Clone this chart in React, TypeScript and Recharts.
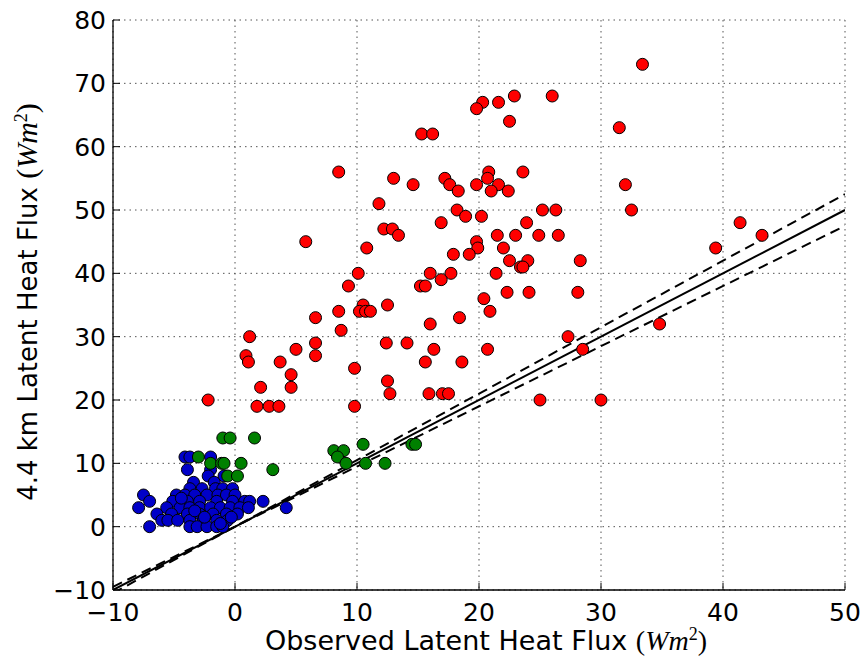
import { CartesianGrid, ReferenceLine, Scatter, ScatterChart, XAxis, YAxis } from 'recharts';

const xTicks = [-10, 0, 10, 20, 30, 40, 50];
const yTicks = [-10, 0, 10, 20, 30, 40, 50, 60, 70, 80];

// 4.4 km run vs observed, split by regime
const redPoints = [
  { x: 33.4, y: 73 }, { x: 26, y: 68 }, { x: 22.9, y: 68 }, { x: 20.3, y: 67 }, { x: 21.6, y: 67 },
  { x: 19.8, y: 66 }, { x: 22.5, y: 64 }, { x: 31.5, y: 63 }, { x: 15.3, y: 62 }, { x: 16.2, y: 62 },
  { x: 8.5, y: 56 }, { x: 20.8, y: 56 }, { x: 23.6, y: 56 }, { x: 13, y: 55 }, { x: 17.2, y: 55 },
  { x: 20.7, y: 55 }, { x: 14.6, y: 54 }, { x: 17.6, y: 54 }, { x: 19.8, y: 54 }, { x: 21.6, y: 54 },
  { x: 32, y: 54 }, { x: 18.3, y: 53 }, { x: 21, y: 53 }, { x: 22.4, y: 53 }, { x: 11.8, y: 51 },
  { x: 18.2, y: 50 }, { x: 25.2, y: 50 }, { x: 26.3, y: 50 }, { x: 32.5, y: 50 }, { x: 18.9, y: 49 },
  { x: 20.2, y: 49 }, { x: 16.9, y: 48 }, { x: 23.9, y: 48 }, { x: 41.4, y: 48 }, { x: 12.2, y: 47 },
  { x: 12.9, y: 47 }, { x: 13.4, y: 46 }, { x: 21.5, y: 46 }, { x: 23, y: 46 }, { x: 24.9, y: 46 },
  { x: 26.5, y: 46 }, { x: 43.2, y: 46 }, { x: 5.8, y: 45 }, { x: 19.8, y: 45 }, { x: 10.8, y: 44 },
  { x: 19.9, y: 44 }, { x: 22, y: 44 }, { x: 39.4, y: 44 }, { x: 17.9, y: 43 }, { x: 19.2, y: 43 },
  { x: 22.5, y: 42 }, { x: 24, y: 42 }, { x: 28.3, y: 42 }, { x: 23.4, y: 41 }, { x: 23.6, y: 41 },
  { x: 10.1, y: 40 }, { x: 16, y: 40 }, { x: 17.7, y: 40 }, { x: 21.4, y: 40 }, { x: 16.9, y: 39 },
  { x: 9.3, y: 38 }, { x: 15.2, y: 38 }, { x: 15.6, y: 38 }, { x: 22.3, y: 37 }, { x: 24.1, y: 37 },
  { x: 28.1, y: 37 }, { x: 20.4, y: 36 }, { x: 10.5, y: 35 }, { x: 12.5, y: 35 }, { x: 8.5, y: 34 },
  { x: 10.2, y: 34 }, { x: 10.7, y: 34 }, { x: 11.1, y: 34 }, { x: 20.9, y: 34 }, { x: 6.6, y: 33 },
  { x: 18.4, y: 33 }, { x: 16, y: 32 }, { x: 34.8, y: 32 }, { x: 8.7, y: 31 }, { x: 1.2, y: 30 },
  { x: 27.3, y: 30 }, { x: 6.6, y: 29 }, { x: 12.4, y: 29 }, { x: 14.1, y: 29 }, { x: 5, y: 28 },
  { x: 16.3, y: 28 }, { x: 20.7, y: 28 }, { x: 28.5, y: 28 }, { x: 0.9, y: 27 }, { x: 6.6, y: 27 },
  { x: 1.1, y: 26 }, { x: 3.7, y: 26 }, { x: 15.6, y: 26 }, { x: 18.6, y: 26 }, { x: 9.8, y: 25 },
  { x: 4.6, y: 24 }, { x: 12.5, y: 23 }, { x: 2.1, y: 22 }, { x: 4.6, y: 22 }, { x: 12.7, y: 21 },
  { x: 15.9, y: 21 }, { x: 17, y: 21 }, { x: 17.5, y: 21 }, { x: -2.2, y: 20 }, { x: 25, y: 20 },
  { x: 30, y: 20 }, { x: 1.8, y: 19 }, { x: 2.8, y: 19 }, { x: 3.6, y: 19 }, { x: 9.8, y: 19 },
];

const greenPoints = [
  { x: -3, y: 11 }, { x: -1, y: 14 }, { x: -0.4, y: 14 }, { x: 1.6, y: 14 }, { x: -2, y: 10 },
  { x: -1.1, y: 10 }, { x: -0.9, y: 10 }, { x: 0.5, y: 10 }, { x: -0.6, y: 8 }, { x: 0.2, y: 8 },
  { x: 3.1, y: 9 }, { x: 8.1, y: 12 }, { x: 8.9, y: 12 }, { x: 8.4, y: 11 }, { x: 9.1, y: 10 },
  { x: 10.5, y: 13 }, { x: 10.7, y: 10 }, { x: 12.3, y: 10 }, { x: 14.5, y: 13 }, { x: 14.8, y: 13 },
];

const bluePoints = [
  { x: -4.1, y: 11 }, { x: -3.7, y: 11 }, { x: -2, y: 11 }, { x: -3.9, y: 9 }, { x: -2, y: 9 },
  { x: -2.2, y: 8 }, { x: -0.9, y: 8 }, { x: -3.4, y: 7 }, { x: -1.7, y: 7 },
  { x: -3.7, y: 6 }, { x: -2.7, y: 6 }, { x: -1.6, y: 6 }, { x: -1, y: 6 }, { x: -0.2, y: 6 },
  { x: -7.5, y: 5 }, { x: -4.8, y: 5 }, { x: -4.1, y: 5 }, { x: -3.3, y: 5 }, { x: -2.3, y: 5 },
  { x: -1.4, y: 5 }, { x: -0.7, y: 5 }, { x: 0, y: 5 },
  { x: -7, y: 4 }, { x: -5.1, y: 4 }, { x: -3.9, y: 4 }, { x: -2.9, y: 4 }, { x: -1.5, y: 4 },
  { x: -0.2, y: 4 }, { x: 0.8, y: 4 }, { x: 1.2, y: 4 }, { x: 2.3, y: 4 },
  { x: -7.9, y: 3 }, { x: -5.6, y: 3 }, { x: -4.5, y: 3 }, { x: -3.7, y: 3 }, { x: -2.9, y: 3 },
  { x: -2, y: 3 }, { x: -1.2, y: 3 }, { x: -0.4, y: 3 }, { x: 0.4, y: 3 }, { x: 1.1, y: 3 }, { x: 4.2, y: 3 },
  { x: -6.4, y: 2 }, { x: -5.2, y: 2 }, { x: -3.9, y: 2 }, { x: -2.9, y: 2 }, { x: -1.8, y: 2 },
  { x: -0.7, y: 2 }, { x: 0.2, y: 2 },
  { x: -6, y: 1 }, { x: -5.5, y: 1 }, { x: -4.7, y: 1 }, { x: -3.7, y: 1 }, { x: -2.6, y: 1 },
  { x: -1.5, y: 1 }, { x: -0.6, y: 1 },
  { x: -7, y: 0 }, { x: -3.7, y: 0 }, { x: -3.1, y: 0 }, { x: -2.3, y: 0 }, { x: -1.5, y: 0 }, { x: -1, y: 0 },
  { x: -4.4, y: 4.5 }, { x: -3.3, y: 2.5 }, { x: -2.5, y: 1.5 }, { x: -1.2, y: 0.5 }, { x: -0.3, y: 1.5 },
];

// 1:1 line and the +/-5 % lines
const oneToOne = [{ x: -10, y: -10 }, { x: 50, y: 50 }];
const upperLine = [{ x: -10, y: -10.5 }, { x: 50, y: 52.5 }];
const lowerLine = [{ x: -10, y: -9.5 }, { x: 50, y: 47.5 }];

const fmt = (v: number) => (v < 0 ? `\u2212${-v}` : `${v}`);
const tickStyle = { fill: '#000', fontSize: 25, fontFamily: 'DejaVu Sans' };
const axisLine = { stroke: '#000', strokeWidth: 1.3 };
const tickLine = { stroke: '#000', strokeWidth: 1 };

const dot = (color: string) => (p: any) => (
  <circle cx={p.cx} cy={p.cy} r={6} fill={color} stroke="#000" strokeWidth={1} />
);

const Units = ({ size }: { size: number }) => (
  <>
    <tspan fontFamily="Liberation Serif" fontSize={size}>(</tspan>
    <tspan fontFamily="Liberation Serif" fontSize={size} fontStyle="italic">Wm</tspan>
    <tspan fontFamily="Liberation Serif" fontSize={18} dy={-10}>2</tspan>
    <tspan fontFamily="Liberation Serif" fontSize={size} dy={10}>)</tspan>
  </>
);

const AxisTitles = () => (
  <svg width={862} height={658} style={{ position: 'absolute', left: 0, top: 0, pointerEvents: 'none' }}>
    <text x={486} y={650} textAnchor="middle" fontSize={27} fontFamily="DejaVu Sans" fill="#000">
      Observed Latent Heat Flux <Units size={28} />
    </text>
    <text transform="translate(37,302) rotate(-90)" textAnchor="middle" fontSize={26} fontFamily="DejaVu Sans" fill="#000">
      4.4 km Latent Heat Flux <Units size={30} />
    </text>
  </svg>
);

export default function App() {
  return (
    <div style={{ position: 'absolute', left: 0, top: 0, width: 862, height: 658, background: '#fff' }}>
      <ScatterChart width={862} height={658} margin={{ top: 20, right: 17, bottom: 0, left: 0 }}>
        <CartesianGrid stroke="#555" strokeDasharray="1.5 4" />
        <XAxis
          type="number"
          dataKey="x"
          domain={[-10, 50]}
          ticks={xTicks}
          allowDataOverflow
          height={68}
          tickSize={-7}
          tickMargin={20}
          tickFormatter={fmt}
          tick={tickStyle}
          axisLine={axisLine}
          tickLine={tickLine}
        />
        <YAxis
          type="number"
          dataKey="y"
          domain={[-10, 80]}
          ticks={yTicks}
          allowDataOverflow
          width={113}
          tickSize={-7}
          tickMargin={14}
          tickFormatter={fmt}
          tick={tickStyle}
          axisLine={axisLine}
          tickLine={tickLine}
        />
        <XAxis
          xAxisId="top"
          orientation="top"
          type="number"
          domain={[-10, 50]}
          ticks={xTicks}
          allowDataOverflow
          height={0}
          tickSize={-7}
          tick={false}
          axisLine={axisLine}
          tickLine={tickLine}
        />
        <YAxis
          yAxisId="right"
          orientation="right"
          type="number"
          domain={[-10, 80]}
          ticks={yTicks}
          allowDataOverflow
          width={0}
          tickSize={-7}
          tick={false}
          axisLine={axisLine}
          tickLine={tickLine}
        />
        <Scatter data={bluePoints} fill="#0000c8" shape={dot('#0000c8')} isAnimationActive={false} />
        <Scatter data={greenPoints} fill="#008000" shape={dot('#008000')} isAnimationActive={false} />
        <Scatter data={redPoints} fill="#ff0000" shape={dot('#ff0000')} isAnimationActive={false} />
        <ReferenceLine segment={oneToOne} stroke="#000" strokeWidth={2} ifOverflow="hidden" />
        <ReferenceLine segment={upperLine} stroke="#000" strokeWidth={2} strokeDasharray="10 6" ifOverflow="hidden" />
        <ReferenceLine segment={lowerLine} stroke="#000" strokeWidth={2} strokeDasharray="10 6" ifOverflow="hidden" />
      </ScatterChart>
      <AxisTitles />
    </div>
  );
}
